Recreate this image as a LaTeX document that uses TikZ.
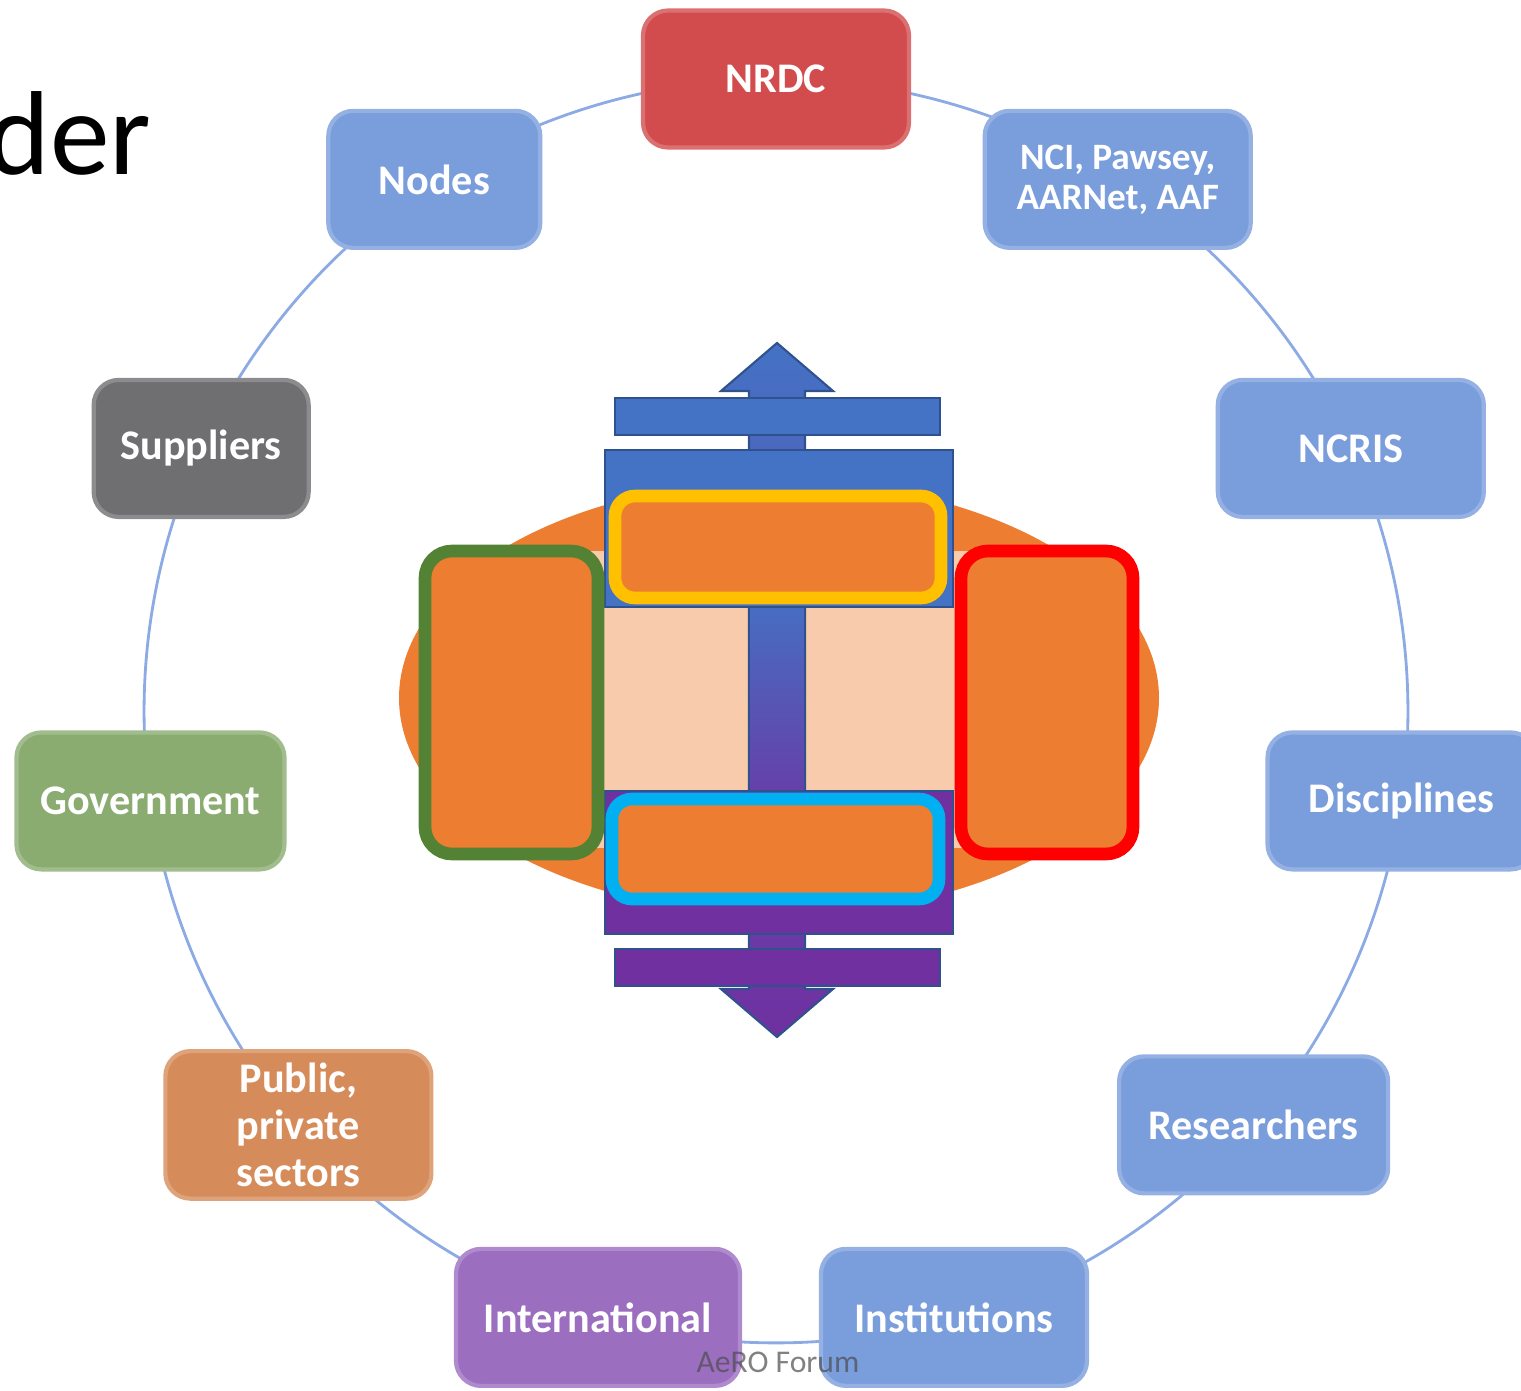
\documentclass[tikz,border=0pt]{standalone}
\usepackage{fontspec}
\setmainfont{Carlito}
\usepackage{xcolor}
\usepackage{tikz}
\usetikzlibrary{backgrounds}

\definecolor{boxblue}{RGB}{122,157,220}
\definecolor{boxred}{RGB}{210,76,78}
\definecolor{boxgrey}{RGB}{111,111,114}
\definecolor{boxgreen}{RGB}{138,172,112}
\definecolor{boxorange}{RGB}{214,140,90}
\definecolor{boxpurple}{RGB}{155,110,192}
\definecolor{ringline}{RGB}{140,170,228}
\definecolor{hubblue}{RGB}{68,114,196}
\definecolor{hubpurple}{RGB}{112,48,160}
\definecolor{hubline}{RGB}{47,82,143}
\definecolor{huborange}{RGB}{237,125,49}
\definecolor{hubpeach}{RGB}{248,203,173}
\definecolor{hubyellow}{RGB}{255,192,0}
\definecolor{hubcyan}{RGB}{0,176,240}
\definecolor{hubgreen}{RGB}{84,130,53}
\definecolor{hubred}{RGB}{255,0,0}

\begin{document}
\begin{tikzpicture}[
	party/.style={rounded corners=0.25cm, minimum width=2.66cm, minimum height=1.37cm, align=center, text=white, font=\bfseries\fontsize{12}{13.4}\selectfont, line width=1.2pt},
	ring/.style={ringline, line width=0.8pt},
	hub/.style={draw=hubline, line width=0.6pt},
	frame/.style={fill=huborange, line width=3.6pt, rounded corners=0.2cm}
	]
	\useasboundingbox (0,0) rectangle (15.21,13.90);
	\node[anchor=base east, inner sep=0pt, font=\fontsize{34}{40}\selectfont] (title) at (1.52,12.15) {der};

	\fill[huborange] (7.79,6.92) ellipse (3.80 and 2.17);
	\fill[hubpeach] (5.2,5.42) rectangle (10.4,8.39);
	\draw[hub, top color=hubblue, bottom color=hubpurple] (7.77,10.47) -- (8.33,9.99) -- (8.05,9.99) -- (8.05,4.01) -- (8.33,4.01) -- (7.77,3.53) -- (7.21,4.01) -- (7.49,4.01) -- (7.49,9.99) -- (7.21,9.99) -- cycle;
	\draw[hub, top color=hubblue!92!hubpurple, middle color=hubblue!60!hubpurple, bottom color=hubpurple!75!hubblue] (7.49,5.99) rectangle (8.05,7.83);
	\draw[hub, fill=hubblue] (6.05,7.83) rectangle (9.53,9.40);
	\draw[hub, fill=hubpurple] (6.05,4.56) rectangle (9.53,5.99);
	\draw[hub, fill=hubblue] (6.15,9.55) rectangle (9.40,9.92);
	\draw[hub, fill=hubpurple] (6.15,4.04) rectangle (9.40,4.41);
	\draw[frame, draw=hubyellow] (6.15,7.92) rectangle (9.41,8.94);
	\draw[frame, draw=hubcyan] (6.12,4.91) rectangle (9.39,5.91);
	\draw[frame, draw=hubgreen, rounded corners=0.27cm] (4.25,5.36) rectangle (5.98,8.39);
	\draw[frame, draw=hubred, rounded corners=0.27cm] (9.61,5.36) rectangle (11.33,8.39);

	\begin{scope}[shift={(7.76,6.79)}]
		\node[party, fill=boxred, draw=boxred!80!white] (nrdc) at (90:6.32) {NRDC};
		\node[party, fill=boxblue, draw=boxblue!80!white, font=\bfseries\fontsize{10.6}{11.4}\selectfont] (nci) at (57.27:6.32) {NCI, Pawsey,\\AARNet, AAF};
		\node[party, fill=boxblue, draw=boxblue!80!white] (ncris) at (24.55:6.32) {NCRIS};
		\node[party, fill=boxblue, draw=boxblue!80!white, minimum width=2.68cm] (disc) at (-8.18:6.32) {Disciplines};
		\node[party, fill=boxblue, draw=boxblue!80!white, minimum width=2.69cm] (res) at (-40.91:6.32) {Researchers};
		\node[party, fill=boxblue, draw=boxblue!80!white] (inst) at (-73.64:6.32) {Institutions};
		\node[party, fill=boxpurple, draw=boxpurple!80!white, minimum width=2.84cm] (intl) at (-106.36:6.32) {International};
		\node[party, fill=boxorange, draw=boxorange!80!white] (pub) at (-139.09:6.32) {Public,\\private\\sectors};
		\node[party, fill=boxgreen, draw=boxgreen!80!white, minimum width=2.68cm] (gov) at (-171.82:6.32) {Government};
		\node[party, fill=boxgrey, draw=boxgrey!80!white, minimum width=2.15cm] (supp) at (155.45:6.32) {Suppliers};
		\node[party, fill=boxblue, draw=boxblue!80!white, minimum width=2.12cm] (nodes) at (122.73:6.32) {Nodes};
	\end{scope}

	\begin{scope}[on background layer]
		\foreach \a/\b in {nrdc/nci, nci/ncris, ncris/disc, disc/res, res/inst, inst/intl, intl/pub, pub/gov, gov/supp, supp/nodes, nodes/nrdc}
			\draw[ring] (\a.center) to[bend left=16.36, looseness=0.87] (\b.center);
	\end{scope}

	\node[anchor=base, text=black!70, text opacity=0.7, font=\fontsize{9}{11}\selectfont] (forum) at (7.78,0.18) {AeRO Forum};
\end{tikzpicture}
\end{document}
